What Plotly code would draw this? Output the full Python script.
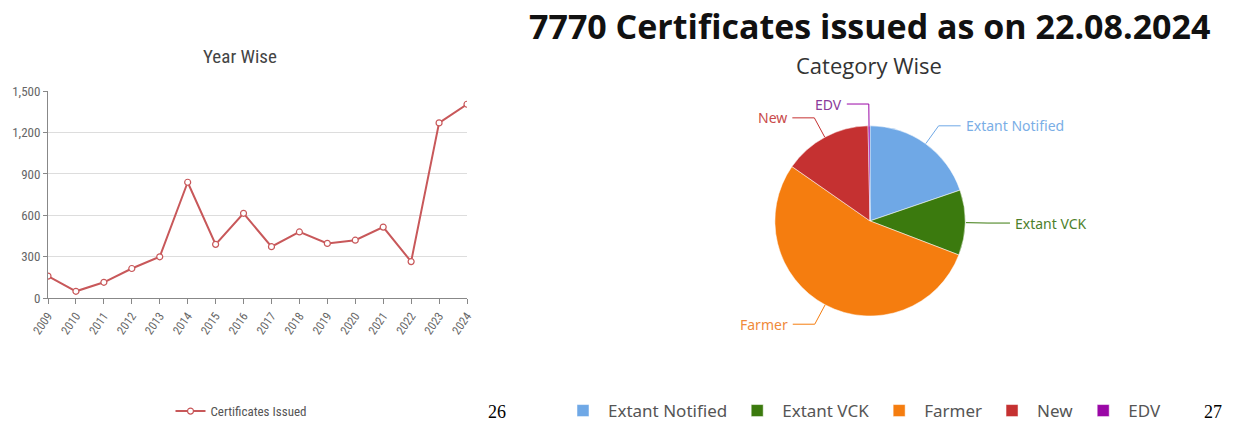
import math
import plotly.graph_objects as go

# ---------------- data ----------------
years = list(range(2009, 2025))
certificates = [160, 50, 115, 215, 300, 840, 390, 615, 373, 480, 397, 420, 515, 265, 1270, 1405]
y_ticks = [0, 300, 600, 900, 1200, 1500]

categories = ["Extant Notified", "Extant VCK", "Farmer", "New", "EDV"]
category_counts = [1535, 860, 4185, 1165, 25]

# ---------------- styles ----------------
W, H = 1247, 429
category_colors = ["#6fa8e6", "#3b7a0e", "#f57d0f", "#c53131", "#9a07a6"]
label_colors = ["#7aaee6", "#4d7f2c", "#f08a3a", "#c94a4a", "#8a3a9a"]
line_color = "#c8585a"
narrow = "Liberation Sans Narrow, Roboto Condensed, Arial Narrow, Roboto, sans-serif"
body = "Open Sans, Roboto, sans-serif"
sans = "Noto Sans, Open Sans, sans-serif"


def px(x):
    return x / W


def py(y):
    return 1 - y / H


fig = go.Figure()

# ---- left: line chart ----
fig.add_trace(go.Scatter(
    x=years, y=certificates, mode="lines+markers", name="Certificates Issued",
    line=dict(color=line_color, width=2),
    marker=dict(symbol="circle", size=6, color="white", line=dict(color=line_color, width=1.2)),
    xaxis="x", yaxis="y", legend="legend", showlegend=True,
))

# ---- right: pie ----
cx, cy, r = 870, 223, 96
fig.add_trace(go.Pie(
    labels=categories, values=category_counts, sort=False, direction="clockwise",
    rotation=0, marker=dict(colors=category_colors, line=dict(color="white", width=0.5)),
    textinfo="none", hoverinfo="label+value+percent",
    domain=dict(x=[px(cx - r), px(cx + r)], y=[py(cy + r), py(cy - r)]),
    legend="legend2", showlegend=True,
))

annotations = []
shapes = []

# pie outside labels with leader lines, computed from slice angles
total = sum(category_counts)
cum = 0
for lab, val, col, tcol in zip(categories, category_counts, category_colors, label_colors):
    mid = (cum + val / 2) / total * 2 * math.pi
    cum += val
    s, c = math.sin(mid), math.cos(mid)
    ax, ay = cx + r * s, cy - r * c
    ext = 22
    ex, ey = cx + (r + ext) * s, cy - (r + ext) * c
    side = 1 if s >= 0 else -1
    hx = ex + side * 22
    shapes.append(dict(type="path", xref="paper", yref="paper",
                       path=f"M {px(ax)},{py(ay)} L {px(ex)},{py(ey)} L {px(hx)},{py(ey)}",
                       line=dict(color=col, width=1)))
    annotations.append(dict(x=px(hx + side * 3), y=py(ey), xref="paper", yref="paper",
                            text=lab, showarrow=False,
                            xanchor="left" if side > 0 else "right", yanchor="middle",
                            font=dict(family=sans, size=14, color=tcol)))

annotations += [
    dict(x=px(240), y=py(57), xref="paper", yref="paper", text="Year Wise", showarrow=False,
         font=dict(family=narrow, size=19, color="#444"), xanchor="center", yanchor="middle"),
    dict(x=px(869), y=py(26), xref="paper", yref="paper",
         text="<b>7770 Certificates issued as on 22.08.2024</b>", showarrow=False,
         font=dict(family=body, size=34, color="#111"), xanchor="center", yanchor="middle",
         borderpad=0),
    dict(x=px(869), y=py(66), xref="paper", yref="paper", text="Category Wise", showarrow=False,
         font=dict(family=body, size=22, color="#333"), xanchor="center", yanchor="middle",
         borderpad=0),
    dict(x=px(497), y=py(416), xref="paper", yref="paper", text="26", showarrow=False,
         font=dict(family="Liberation Serif, Times New Roman, serif", size=18, color="#000"),
         xanchor="center", yanchor="middle"),
    dict(x=px(1213), y=py(416), xref="paper", yref="paper", text="27", showarrow=False,
         font=dict(family="Liberation Serif, Times New Roman, serif", size=18, color="#000"),
         xanchor="center", yanchor="middle"),
]

fig.update_layout(
    width=W, height=H, margin=dict(l=0, r=0, t=0, b=0),
    paper_bgcolor="white", plot_bgcolor="white", showlegend=True,
    xaxis=dict(domain=[px(48), px(467)], range=[years[0], years[-1]], tickvals=years,
               ticktext=[str(y) for y in years], tickangle=-55,
               tickfont=dict(family=narrow, size=12, color="#666"),
               showgrid=False, zeroline=False, showline=True, linecolor="#888", linewidth=1,
               ticks="outside", ticklen=5, tickcolor="#888", automargin=False, fixedrange=True),
    yaxis=dict(domain=[py(301), py(92)], range=[0, 1500], tickvals=y_ticks,
               ticktext=[f"{v:,}" for v in y_ticks],
               tickfont=dict(family=narrow, size=13, color="#666"),
               showgrid=True, gridcolor="#dddddd", zeroline=False, showline=True,
               linecolor="#888", linewidth=1, ticks="outside", ticklen=4, tickcolor="#888",
               automargin=False, fixedrange=True),
    legend=dict(x=px(241), y=py(415), xanchor="center", yanchor="middle", orientation="h",
                font=dict(family=narrow, size=13, color="#555"), bgcolor="rgba(0,0,0,0)"),
    legend2=dict(x=px(862), y=py(415), xanchor="center", yanchor="middle", orientation="h",
                 font=dict(family=sans, size=17, color="#555"), bgcolor="rgba(0,0,0,0)",
                 itemwidth=40),
    annotations=annotations, shapes=shapes,
)

fig.write_html("out.html")
